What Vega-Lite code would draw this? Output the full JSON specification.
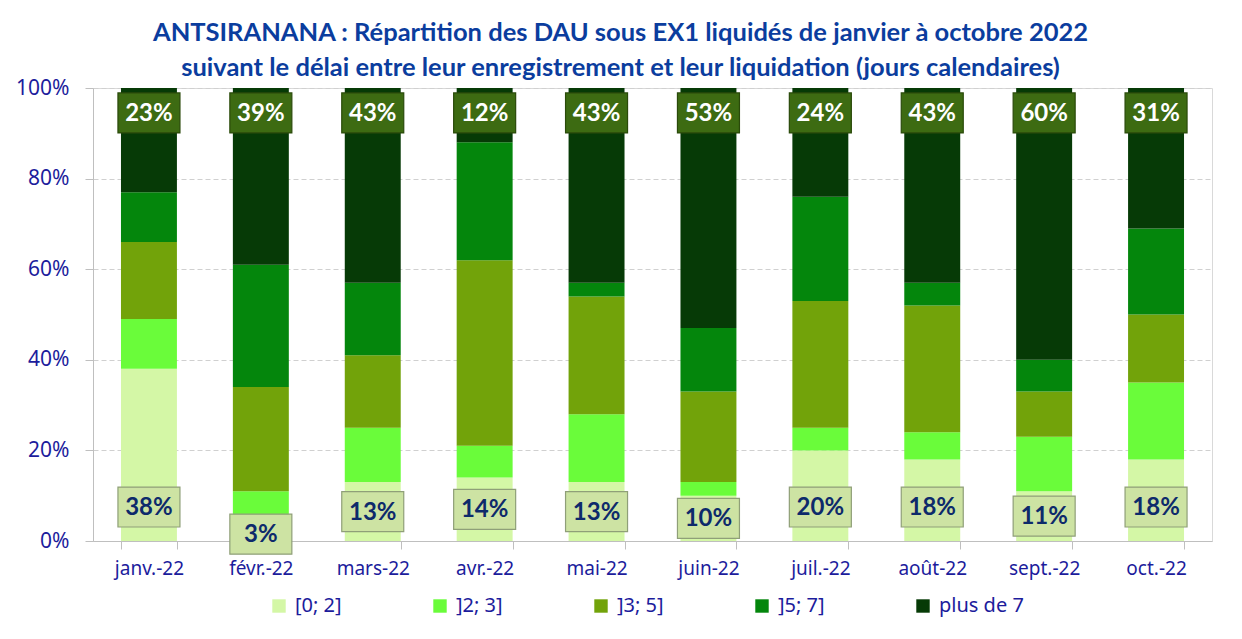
{
  "$schema": "https://vega.github.io/schema/vega-lite/v6.json",
  "width": 1119,
  "height": 453,
  "autosize": {"type": "none"},
  "padding": {"left": 93, "top": 88, "right": 30, "bottom": 98},
  "background": "white",
  "title": {
    "text": ["ANTSIRANANA : Répartition des DAU sous EX1 liquidés de janvier à octobre 2022", "suivant le délai entre leur enregistrement et leur liquidation (jours calendaires)"],
    "font": "Lato",
    "fontSize": 25.5,
    "fontWeight": "bold",
    "color": "#0b3d9e",
    "lineHeight": 35,
    "anchor": "middle",
    "frame": "group",
    "dx": -32,
    "offset": -4
  },
  "data": {
    "values": [
      {"mois": "janv.-22", "cat": "[0; 2]", "v": 38},
      {"mois": "janv.-22", "cat": "]2; 3]", "v": 11},
      {"mois": "janv.-22", "cat": "]3; 5]", "v": 17},
      {"mois": "janv.-22", "cat": "]5; 7]", "v": 11},
      {"mois": "janv.-22", "cat": "plus de 7", "v": 23},
      {"mois": "févr.-22", "cat": "[0; 2]", "v": 3},
      {"mois": "févr.-22", "cat": "]2; 3]", "v": 8},
      {"mois": "févr.-22", "cat": "]3; 5]", "v": 23},
      {"mois": "févr.-22", "cat": "]5; 7]", "v": 27},
      {"mois": "févr.-22", "cat": "plus de 7", "v": 39},
      {"mois": "mars-22", "cat": "[0; 2]", "v": 13},
      {"mois": "mars-22", "cat": "]2; 3]", "v": 12},
      {"mois": "mars-22", "cat": "]3; 5]", "v": 16},
      {"mois": "mars-22", "cat": "]5; 7]", "v": 16},
      {"mois": "mars-22", "cat": "plus de 7", "v": 43},
      {"mois": "avr.-22", "cat": "[0; 2]", "v": 14},
      {"mois": "avr.-22", "cat": "]2; 3]", "v": 7},
      {"mois": "avr.-22", "cat": "]3; 5]", "v": 41},
      {"mois": "avr.-22", "cat": "]5; 7]", "v": 26},
      {"mois": "avr.-22", "cat": "plus de 7", "v": 12},
      {"mois": "mai-22", "cat": "[0; 2]", "v": 13},
      {"mois": "mai-22", "cat": "]2; 3]", "v": 15},
      {"mois": "mai-22", "cat": "]3; 5]", "v": 26},
      {"mois": "mai-22", "cat": "]5; 7]", "v": 3},
      {"mois": "mai-22", "cat": "plus de 7", "v": 43},
      {"mois": "juin-22", "cat": "[0; 2]", "v": 10},
      {"mois": "juin-22", "cat": "]2; 3]", "v": 3},
      {"mois": "juin-22", "cat": "]3; 5]", "v": 20},
      {"mois": "juin-22", "cat": "]5; 7]", "v": 14},
      {"mois": "juin-22", "cat": "plus de 7", "v": 53},
      {"mois": "juil.-22", "cat": "[0; 2]", "v": 20},
      {"mois": "juil.-22", "cat": "]2; 3]", "v": 5},
      {"mois": "juil.-22", "cat": "]3; 5]", "v": 28},
      {"mois": "juil.-22", "cat": "]5; 7]", "v": 23},
      {"mois": "juil.-22", "cat": "plus de 7", "v": 24},
      {"mois": "août-22", "cat": "[0; 2]", "v": 18},
      {"mois": "août-22", "cat": "]2; 3]", "v": 6},
      {"mois": "août-22", "cat": "]3; 5]", "v": 28},
      {"mois": "août-22", "cat": "]5; 7]", "v": 5},
      {"mois": "août-22", "cat": "plus de 7", "v": 43},
      {"mois": "sept.-22", "cat": "[0; 2]", "v": 11},
      {"mois": "sept.-22", "cat": "]2; 3]", "v": 12},
      {"mois": "sept.-22", "cat": "]3; 5]", "v": 10},
      {"mois": "sept.-22", "cat": "]5; 7]", "v": 7},
      {"mois": "sept.-22", "cat": "plus de 7", "v": 60},
      {"mois": "oct.-22", "cat": "[0; 2]", "v": 18},
      {"mois": "oct.-22", "cat": "]2; 3]", "v": 17},
      {"mois": "oct.-22", "cat": "]3; 5]", "v": 15},
      {"mois": "oct.-22", "cat": "]5; 7]", "v": 19},
      {"mois": "oct.-22", "cat": "plus de 7", "v": 31}
    ]
  },
  "encoding": {
    "x": {
      "field": "mois",
      "type": "nominal",
      "sort": null,
      "scale": {"paddingInner": 0.5, "paddingOuter": 0.25},
      "axis": {
        "title": null,
        "labelAngle": 0,
        "labelFont": "Noto Sans",
        "labelFontSize": 19,
        "labelColor": "#1c1c9c",
        "labelPadding": 10,
        "tickBand": "extent",
        "tickSize": 8,
        "tickColor": "#bfbfbf",
        "domainColor": "#bfbfbf",
        "grid": false
      }
    }
  },
  "layer": [
    {
      "mark": {"type": "bar"},
      "encoding": {
        "y": {
          "field": "v",
          "type": "quantitative",
          "stack": "zero",
          "scale": {"domain": [0, 100], "nice": false},
          "axis": {
            "title": null,
            "values": [0, 20, 40, 60, 80, 100],
            "labelExpr": "datum.value + '%'",
            "labelFont": "Noto Sans",
            "labelFontSize": 21,
            "labelColor": "#1c1c9c",
            "labelPadding": 16,
            "tickSize": 8,
            "tickColor": "#bfbfbf",
            "domainColor": "#bfbfbf",
            "grid": true,
            "gridColor": "#d0d0d0",
            "gridDash": [5, 3]
          }
        },
        "color": {
          "field": "cat",
          "type": "nominal",
          "sort": ["[0; 2]", "]2; 3]", "]3; 5]", "]5; 7]", "plus de 7"],
          "scale": {
            "domain": ["[0; 2]", "]2; 3]", "]3; 5]", "]5; 7]", "plus de 7"],
            "range": ["#d4f7a6", "#6afc3a", "#72a30a", "#04860c", "#063a06"]
          },
          "legend": {
            "title": null,
            "orient": "none",
            "direction": "horizontal",
            "columns": 5,
            "gridAlign": "all",
            "columnPadding": 50,
            "legendX": 176,
            "legendY": 508,
            "padding": 0,
            "symbolType": "square",
            "symbolSize": 180,
            "symbolStrokeWidth": 0,
            "labelFont": "Noto Sans",
            "labelFontSize": 20,
            "labelColor": "#1c1c9c",
            "labelOffset": 6
          }
        },
        "order": {"field": "cat", "sort": "ascending"}
      }
    },
    {
      "transform": [
        {"filter": "datum.cat === '[0; 2]' || datum.cat === 'plus de 7'"},
        {"calculate": "datum.cat === 'plus de 7' ? 94.5 : min(datum.v / 2, 7.5)", "as": "ly"},
        {"calculate": "datum.v + '%'", "as": "lab"}
      ],
      "layer": [
        {
          "mark": {
            "type": "point",
            "shape": "M-1.55,-1H1.55V1H-1.55Z",
            "size": 1600,
            "filled": true,
            "opacity": 1,
            "strokeWidth": 1.2
          },
          "encoding": {
            "y": {"field": "ly", "type": "quantitative"},
            "fill": {
              "condition": {"test": "datum.cat === 'plus de 7'", "value": "#3d6b12"},
              "value": "#cde3a3"
            },
            "stroke": {
              "condition": {"test": "datum.cat === 'plus de 7'", "value": "#2a4a0a"},
              "value": "#8f9f78"
            }
          }
        },
        {
          "mark": {
            "type": "text",
            "font": "Lato",
            "fontSize": 24,
            "fontWeight": "bold",
            "baseline": "middle",
            "align": "center",
            "dy": 1
          },
          "encoding": {
            "y": {"field": "ly", "type": "quantitative"},
            "text": {"field": "lab"},
            "color": {
              "condition": {"test": "datum.cat === 'plus de 7'", "value": "#ffffff"},
              "value": "#0d2a6b"
            }
          }
        }
      ]
    }
  ],
  "config": {
    "view": {"stroke": "#d9d9d9"}
  }
}
